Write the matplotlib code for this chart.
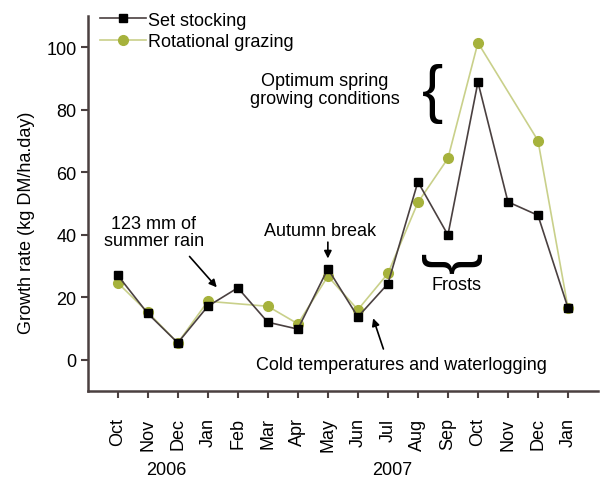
import numpy as np
import matplotlib.pyplot as plt

plt.rcParams['font.family'] = ['Liberation Sans', 'DejaVu Sans']

# Monthly growth rates, Oct 2006 - Jan 2008
months = ['Oct', 'Nov', 'Dec', 'Jan', 'Feb', 'Mar', 'Apr', 'May',
          'Jun', 'Jul', 'Aug', 'Sep', 'Oct', 'Nov', 'Dec', 'Jan']
set_stocking = [27.0, 14.8, 5.4, 17.1, 23.0, 12.0, 9.8, 29.1,
                13.7, 24.3, 56.9, 39.9, 88.8, 50.5, 46.2, 16.6]
# None = not measured (line joins neighbours)
rotational = [24.6, 15.2, 5.4, 18.7, None, 17.1, 11.5, 26.7,
              16.0, 27.6, 50.3, 64.4, 101.4, None, 70.1, 16.6]
years = ['2006', '2007']

x = np.arange(len(months))
rot = np.array([np.nan if v is None else v for v in rotational])
ok = ~np.isnan(rot)

FS = 13

fig = plt.figure(figsize=(6.01, 4.81), dpi=100)
ax = fig.add_axes([0.146, 0.185, 0.849, 0.78])

green_line, green_mk = '#c9d08a', '#a6b23c'
black_line = '#4a4040'

ax.plot(x[ok], rot[ok], color=green_line, lw=1.2, marker='o', ms=7,
        mfc=green_mk, mec=green_mk, zorder=2)
ax.plot(x, set_stocking, color=black_line, lw=1.2, marker='s', ms=6,
        mfc='black', mec='black', zorder=3)

# legend handles (same styles as the series)
h1, = ax.plot([], [], color=black_line, lw=1.2, marker='s', ms=6, mfc='black', mec='black')
h2, = ax.plot([], [], color=green_line, lw=1.2, marker='o', ms=7, mfc=green_mk, mec=green_mk)
ax.legend([h1, h2], ['Set stocking', 'Rotational grazing'], loc='upper left',
          bbox_to_anchor=(0.0, 1.045), frameon=False, fontsize=FS,
          handlelength=2.5, handletextpad=0.15, labelspacing=0.25, borderaxespad=0.3)

ax.set_xlim(-1, 16)
ax.set_ylim(-10, 110)
ax.set_yticks([0, 20, 40, 60, 80, 100])
ax.set_xticks(x)
ax.set_xticklabels(months, rotation=90)
ax.tick_params(axis='both', colors=black_line, width=1.5, length=5, labelcolor='black',
               labelsize=FS)
ax.tick_params(axis='x', pad=14)
ax.tick_params(axis='y', pad=3)
for s in ['top', 'right']:
    ax.spines[s].set_visible(False)
for s in ['left', 'bottom']:
    ax.spines[s].set_color(black_line)
    ax.spines[s].set_linewidth(1.8)

ax.set_ylabel('Growth rate (kg DM/ha.day)', fontsize=FS)
ax.yaxis.set_label_coords(-0.103, 0.45)

# year labels
ax.text(1.63, -0.21, years[0], transform=ax.get_xaxis_transform(), ha='center', va='center', fontsize=FS)
ax.text(9.15, -0.21, years[1], transform=ax.get_xaxis_transform(), ha='center', va='center', fontsize=FS)

# annotations
kw = dict(fontsize=FS, ha='center')
arr = dict(arrowstyle='-|>', color='black', lw=1.2, mutation_scale=11)
ax.text(1.2, 40.9, '123 mm of\nsummer rain', va='center', linespacing=1.05, **kw)
ax.annotate('', xy=(3.36, 22.5), xytext=(2.33, 33.7), arrowprops=arr)
ax.text(6.75, 41.4, 'Autumn break', va='center', **kw)
ax.annotate('', xy=(7, 31.5), xytext=(7, 38.5), arrowprops=arr)
ax.text(9.45, -1.6, 'Cold temperatures and waterlogging', va='center', **kw)
ax.annotate('', xy=(8.48, 14.1), xytext=(8.88, 2.6), arrowprops=arr)
ax.text(6.9, 86.4, 'Optimum spring\ngrowing conditions', va='center', linespacing=1.1, **kw)
ax.text(10.48, 85.4, '{', fontsize=46, ha='center', va='center')
ax.text(11.14, 31.5, '{', fontsize=46, ha='center', va='center', rotation=90)
ax.text(11.27, 24.1, 'Frosts', va='center', **kw)

fig.savefig('out.png', dpi=100)
